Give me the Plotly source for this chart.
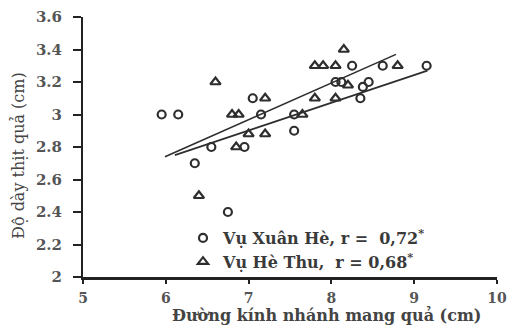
import plotly.graph_objects as go

# Vụ Xuân Hè (circles)
xh_x = [5.95, 6.15, 6.35, 6.55, 6.75, 6.95, 7.05, 7.15, 7.55, 7.55, 8.05, 8.12, 8.25, 8.35, 8.38, 8.45, 8.62, 9.15]
xh_y = [3.0, 3.0, 2.7, 2.8, 2.4, 2.8, 3.1, 3.0, 3.0, 2.9, 3.2, 3.2, 3.3, 3.1, 3.17, 3.2, 3.3, 3.3]
# Vụ Hè Thu (triangles)
ht_x = [6.4, 6.6, 6.8, 6.88, 6.85, 7.0, 7.2, 7.2, 7.65, 7.8, 7.8, 7.9, 8.05, 8.05, 8.15, 8.2, 8.8]
ht_y = [2.5, 3.2, 3.0, 3.0, 2.8, 2.88, 2.88, 3.1, 3.0, 3.1, 3.3, 3.3, 3.1, 3.3, 3.4, 3.18, 3.3]

# trend lines (endpoints)
trend1_x = [5.99, 8.78]
trend1_y = [2.74, 3.37]
trend2_x = [6.11, 9.16]
trend2_y = [2.75, 3.27]

x_ticks = [5, 6, 7, 8, 9, 10]
y_ticks = [2, 2.2, 2.4, 2.6, 2.8, 3, 3.2, 3.4, 3.6]
y_tick_text = ["2", "2.2", "2.4", "2.6", "2.8", "3", "3.2", "3.4", "3.6"]

ink = "#2e2e2e"
serif = "DejaVu Serif, serif"

L, R, T, B = 83, 497, 17, 277
PW, PH = R - L, B - T

fig = go.Figure()
fig.add_trace(go.Scatter(x=trend1_x, y=trend1_y, mode="lines",
                         line=dict(color=ink, width=1.6), showlegend=False, hoverinfo="skip"))
fig.add_trace(go.Scatter(x=trend2_x, y=trend2_y, mode="lines",
                         line=dict(color=ink, width=1.6), showlegend=False, hoverinfo="skip"))
fig.add_trace(go.Scatter(x=xh_x, y=xh_y, mode="markers",
                         name="Vụ Xuân Hè, r =  0,72<sup>*</sup>",
                         marker=dict(symbol="circle-open", size=8, color=ink, line=dict(width=2.2, color=ink))))
fig.add_trace(go.Scatter(x=ht_x, y=ht_y, mode="markers",
                         name="Vụ Hè Thu,  r = 0,68<sup>*</sup>",
                         marker=dict(symbol="triangle-up-open", size=9, color=ink, line=dict(width=2.2, color=ink))))

ytickfont = dict(family=serif, size=15, color="#555555", weight="bold")
xtickfont = dict(family=serif, size=14, color="#555555", weight="bold")
fig.update_layout(
    width=508, height=328,
    margin=dict(l=L, r=508 - R, t=T, b=328 - B, autoexpand=False),
    paper_bgcolor="white", plot_bgcolor="white",
    font=dict(family=serif, color="#444444", size=13),
    xaxis=dict(range=[5, 10], tickvals=x_ticks, showgrid=False, zeroline=False, automargin=False,
               showline=True, linecolor="#222222", linewidth=2.5,
               ticks="outside", ticklen=4, tickwidth=2, tickcolor="#222222",
               ticklabelstandoff=2, tickfont=xtickfont),
    yaxis=dict(range=[2, 3.6], tickvals=y_ticks, ticktext=y_tick_text, showgrid=False, zeroline=False,
               automargin=False,
               showline=True, linecolor="#222222", linewidth=2,
               ticks="outside", ticklen=8, tickwidth=2, tickcolor="#222222",
               ticklabelstandoff=8, tickfont=ytickfont),
    legend=dict(x=(183 - L) / PW, y=1 - (221 - T) / PH, xanchor="left", yanchor="top",
                bgcolor="rgba(0,0,0,0)",
                font=dict(family=serif, size=16, color="#3a3a3a", weight="bold"),
                itemwidth=30, tracegroupgap=0),
    annotations=[
        dict(text="<b>Đường kính nhánh mang quả (cm)</b>",
             x=(326 - L) / PW, y=-(327 - B) / PH,
             xref="paper", yref="paper", xanchor="center", yanchor="bottom",
             showarrow=False, font=dict(family=serif, size=16, color="#444444")),
        dict(text="Độ dày thịt quả (cm)", textangle=-90,
             x=(18 - L) / PW, y=1 - (156 - T) / PH,
             xref="paper", yref="paper", xanchor="center", yanchor="middle",
             showarrow=False, font=dict(family=serif, size=16, color="#444444")),
    ],
)

fig.write_html("out.html", config={"displayModeBar": False},
               post_script="document.body.style.margin='0';")
